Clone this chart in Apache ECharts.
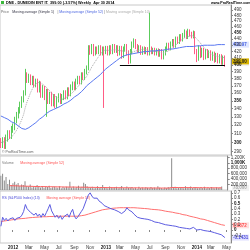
<!DOCTYPE html>
<html><head><meta charset="utf-8">
<script src="https://cdn.jsdelivr.net/npm/echarts@6/dist/echarts.min.js"></script>
<style>html,body{margin:0;padding:0;background:#fff;overflow:hidden}#c{width:250px;height:250px}</style>
</head><body><div id="c"></div>
<script>
const weekStart = '2011-11-14';
const futureWeeks = 3;
const priceOpen = [300,298,302,297,305,310,308,315,318,326, 332,338,345,352,360,385,378,382,375,380, 372,376,365,372,358,366,355,362,350,358, 347,355,345,352,356,350,355,360,356,364, 360,368,372,368,376,380,376,385,382,390, 395,425,420,428,418,424,420,426,418,424, 420,425,418,426,420,428,422,426,418,425, 414,424,428,418,405,420,430,436,428,422, 426,419,424,420,423,418,424,420,422,418, 421,416,420,412,418,424,430,426,432,436, 430,440,436,444,440,446,450,444,452,448, 445,450,420,410,425,415,422,412,420,414, 418,410,416,408,414,406,412,404,410];
const priceClose = [298,302,297,305,310,308,315,318,326,332, 338,345,352,360,385,378,382,375,380,372, 376,365,372,358,366,355,362,350,358,347, 355,345,352,356,350,355,360,356,364,360, 368,372,368,376,380,376,385,382,390,395, 425,420,428,418,424,420,426,418,424,420, 425,418,426,420,428,422,426,418,425,414, 424,428,418,405,420,430,436,428,422,426, 419,424,420,423,418,424,420,422,418,421, 416,420,412,418,424,430,426,432,436,430, 440,436,444,440,446,450,444,452,448,445, 450,420,410,425,415,422,412,420,414,418, 410,416,408,414,406,412,404,410,399];
const priceLow = [294,294,293,293,301,304,304,311,314,322, 328,334,341,348,357,374,374,371,371,368, 368,361,361,354,354,351,330,346,346,343, 343,341,341,348,346,346,351,352,352,356, 356,364,364,364,372,372,372,378,378,386, 392,415,416,413,414,416,416,414,414,341, 416,414,414,416,416,418,418,413,414,409, 410,420,414,401,402,416,426,424,418,418, 415,415,416,416,414,414,416,416,414,414, 412,412,408,408,414,420,422,422,428,426, 426,432,432,436,436,442,440,440,444,441, 441,416,404,406,410,411,407,408,410,410, 406,406,403,404,402,402,400,400,397];
const priceHigh = [305,306,306,309,314,314,319,322,330,336, 342,349,356,364,394,389,387,386,384,384, 380,380,377,376,371,370,366,366,362,362, 359,359,356,360,360,359,364,364,368,368, 372,376,376,380,384,384,389,389,394,399, 430,430,432,432,428,428,430,430,428,428, 429,429,430,430,432,432,430,430,429,429, 428,432,432,422,424,436,441,440,432,430, 430,428,428,427,427,485,428,426,426,425, 425,424,424,422,428,434,434,436,440,440, 444,444,448,448,450,456,454,457,456,452, 454,453,424,430,429,426,426,424,424,422, 422,420,420,418,418,416,416,414,414];
const ma52 = [331,330,329,328,327,326,324,323,322,320, 319,318,316,315,315,316,317,318,320,322, 323,325,327,328,330,332,334,336,337,338, 339,340,341,342,343,344,346,347,348,350, 351,353,355,357,358,360,362,364,367,370, 372,374,376,378,380,382,384,386,389,391, 394,396,398,400,402,404,406,408,410,412, 413,414,415,416,416,417,417,418,418,419, 419,419,420,420,420,420,421,421,421,421, 422,422,422,423,423,423,424,424,424,425, 425,426,426,427,427,427,428,428,428,428, 428,429,429,429,429,429,430,430,430,430, 430,430,430,431,431,431,431,431,430.97];
const ma10 = [300,300,301,302,303, 304,306,308,311,314, 318,322,327,333,342, 349,355,361,366,370, 373,375,375,374,372, 370,368,366,363,360, 358,356,354,353,352, 352,353,354,355,357, 359,361,363,366,369, 371,374,377,380,383, 388,392,397,401,405, 409,413,417,420,422, 422,422,422,422,422, 423,423,422,422,421, 421,421,421,419,418, 419,420,421,422,422, 423,424,424,423,422, 422,421,421,420,420, 420,419,418,418,419, 420,421,423,426,428, 431,433,436,438,440, 442,443,444,445,446, 446,443,440,437,434, 430,427,424,421,418, 416,415,414,413,412, 412,411,411,410.57];
const volumeK = [520,600,350,480,220, 380,180,250,300,200, 260,150,200,180,320, 150,120,200,90,140, 100,180,120,90,150, 80,120,110,160,70, 100,130,90,80,140, 60,110,90,120,100, 300,90,130,80,110, 160,90,120,270,220, 140,100,80,120,60, 90,140,70,100,180, 80,110,60,130,90, 70,100,120,60,90, 150,80,60,130,70, 90,110,60,80,50, 120,70,90,60,100, 80,60,110,70,90, 60,140,80,70,50, 90,60,110,70,1170, 80,120,60,90,70, 100,60,140,80,90, 130,70,90,110,60, 80,100,70,120,60, 90,70,110,80,60, 100,70,90,130];
const volumeMaK = [null,null,null,null,null,160,158,156,154,152, 150,148,146,144,142,140,138,136,134,132, 130,128,127,126,125,124,123,122,121,120, 119,118,117,116,115,114,113,112,111,110, 110,109,108,107,106,105,104,103,102,101, 100,99,98,97,96,95,94,93,92,91, 90,89,88,87,86,86,85,85,84,84, 83,83,82,82,81,81,80,80,79,79, 78,78,77,77,76,76,75,75,74,74, 73,73,72,72,71,71,70,70,70,92, 92,91,91,90,90,89,89,88,88,88, 87,87,86,86,85,85,84,84,83,83, 82,82,81,81,80,80,79,79,78];
const rs = [0.07,0.24,0.18,0.22,0.17,0.21,0.19,0.23,0.18,0.22, 0.20,0.24,0.28,0.35,0.48,0.40,0.42,0.33,0.36,0.28, 0.32,0.26,0.30,0.24,0.31,0.26,0.33,0.40,0.48,0.36, 0.30,0.24,0.28,0.22,0.27,0.20,0.25,0.22,0.30,0.24, 0.33,0.39,0.26,0.21,0.25,0.22,0.35,0.40,0.37,0.58, 0.66,0.70,0.64,0.60,0.57,0.60,0.55,0.58,0.50,0.46, 0.48,0.43,0.45,0.40,0.42,0.38,0.41,0.35,0.33,0.31, 0.33,0.36,0.42,0.38,0.40,0.34,0.30,0.27,0.24,0.26, 0.22,0.25,0.21,0.24,0.20,0.23,0.18,0.20,0.15,0.18, 0.14,0.17,0.12,0.14,0.10,0.13,0.09,0.12,0.08,0.10, 0.07,0.06,0.05,0.07,0.04,0.06,0.03,0.05,0.02,0.04, 0.05,0.02,0.00,0.03,0.01,0.02,-0.01,0.01,-0.02,0.00, -0.03,-0.01,-0.05,-0.03,-0.07,-0.05,-0.09,-0.08,-0.1431];
const rsMa = [0.16,0.165,0.17,0.175,0.18,0.185,0.19,0.195,0.20,0.205, 0.21,0.21,0.215,0.22,0.22,0.225,0.23,0.23,0.235,0.24, 0.24,0.24,0.245,0.245,0.25,0.25,0.25,0.25,0.255,0.255, 0.255,0.255,0.26,0.26,0.26,0.26,0.26,0.26,0.26,0.26, 0.26,0.26,0.26,0.26,0.26,0.26,0.27,0.27,0.28,0.29, 0.30,0.31,0.32,0.33,0.34,0.35,0.36,0.37,0.38,0.385, 0.39,0.395,0.40,0.405,0.41,0.41,0.415,0.415,0.42,0.42, 0.42,0.42,0.42,0.42,0.42,0.42,0.42,0.42,0.415,0.415, 0.41,0.41,0.405,0.40,0.40,0.395,0.39,0.39,0.385,0.38, 0.38,0.375,0.37,0.36,0.355,0.35,0.345,0.34,0.335,0.33, 0.32,0.315,0.31,0.30,0.29,0.285,0.28,0.27,0.26,0.25, 0.245,0.24,0.23,0.22,0.21,0.205,0.20,0.19,0.18,0.17, 0.16,0.15,0.14,0.13,0.12,0.11,0.10,0.095,0.0872];
const priceTicks = [290,300,310,320,330,340,350,360,370,380,390,400,410,420,430,440,450,460,470,480,490];
const volumeTicks = [200000,400000,600000,800000,1000000,1200000];
const rsTicks = [-0.1,0,0.1,0.2,0.3,0.4,0.5,0.6,0.7];
const supportLevel = 399;
const supportStart = '2013-03-04';
const monthNames = ['Jan','Feb','Mar','Apr','May','Jun','Jul','Aug','Sep','Oct','Nov','Dec'];

const FONT = 'Liberation Sans, Arial, sans-serif';
const ln = Math.log;
const nData = priceClose.length;
const dates = [];
{ let t = Date.parse(weekStart + 'T00:00:00Z');
  for (let i = 0; i < nData + futureWeeks; i++) { dates.push(new Date(t).toISOString().slice(0,10)); t += 7*864e5; } }
function isLabelWeek(idx) {
  if (idx === 0) return false;
  const m = +dates[idx].slice(5,7), pm = +dates[idx-1].slice(5,7);
  return m !== pm && m % 2 === 1;
}
const candles = priceOpen.map((o,i) => [ln(o), ln(priceClose[i]), ln(priceLow[i]), ln(priceHigh[i])]);

const chart = echarts.init(document.getElementById('c'), null, {renderer:'canvas'});
const gridCommon = {left: 0, right: 19, show: true, borderColor: '#c8c8c8', borderWidth: 1, backgroundColor: '#fff'};
const xCommon = {type:'category', data: dates, boundaryGap: true, axisLine:{show:false}, axisTick:{show:false}, axisLabel:{show:false}, splitLine:{show:false}};
const yCommon = {position:'right', offset: 0, axisLine:{show:true, lineStyle:{color:'#888', width:1}}, axisTick:{show:true, length:2, lineStyle:{color:'#888'}}, splitLine:{show:false}};
const lblCommon = {fontSize: 4.5, color:'#333', fontFamily: FONT, margin: 3};

chart.setOption({
  animation: false,
  grid: [
    Object.assign({top: 5, height: 150}, gridCommon),
    Object.assign({top: 156, height: 34}, gridCommon),
    Object.assign({top: 191, height: 53}, gridCommon)
  ],
  xAxis: [
    Object.assign({gridIndex:0}, xCommon),
    Object.assign({gridIndex:1}, xCommon),
    Object.assign({gridIndex:2}, xCommon, {
      axisTick:{show:true, length:2, interval: (i) => isLabelWeek(i), lineStyle:{color:'#888'}},
      axisLabel:{show:true, interval: (i) => isLabelWeek(i), fontSize:4.5, color:'#333', fontFamily:FONT, margin:2,
        formatter: (v) => { const m = +v.slice(5,7); return m === 1 ? '{b|' + v.slice(0,4) + '}' : monthNames[m-1]; },
        rich:{b:{fontWeight:'bold', fontSize:4.5, fontFamily:FONT, color:'#222'}}}
    })
  ],
  yAxis: [
    Object.assign({gridIndex:0, type:'value', min: ln(286.5), max: ln(499)}, yCommon, {
      axisTick:{show:true, length:2, customValues: priceTicks.map(ln), lineStyle:{color:'#888'}},
      axisLabel: Object.assign({}, lblCommon, {customValues: priceTicks.map(ln),
        formatter: (v) => { const p = Math.round(Math.exp(v)); return p % 50 === 0 ? '{b|' + p + '}' : String(p); },
        rich:{b:{fontWeight:'bold', fontSize:4.5, fontFamily:FONT, color:'#111'}}})
    }),
    Object.assign({gridIndex:1, type:'value', min: 0, max: 1250000}, yCommon, {
      axisTick:{show:true, length:2, customValues: volumeTicks, lineStyle:{color:'#888'}},
      axisLabel: Object.assign({}, lblCommon, {customValues: volumeTicks,
        formatter: (v) => v >= 1000000 ? (v === 1000000 ? '{b|1,000K}' : (v/1000).toLocaleString('en-US') + 'K') : v.toLocaleString('en-US'),
        rich:{b:{fontWeight:'bold', fontSize:4.5, fontFamily:FONT, color:'#111'}}})
    }),
    Object.assign({gridIndex:2, type:'value', min: -0.245, max: 0.735}, yCommon, {
      axisTick:{show:true, length:2, customValues: rsTicks, lineStyle:{color:'#888'}},
      axisLabel: Object.assign({}, lblCommon, {customValues: rsTicks,
        formatter: (v) => { const r = Math.round(v*10)/10; const s = r === 0 ? '0' : r.toFixed(1); return (r === 0.5 || r === 0) ? '{b|' + s + '}' : s; },
        rich:{b:{fontWeight:'bold', fontSize:4.5, fontFamily:FONT, color:'#111'}}})
    })
  ],
  series: [
    {type:'candlestick', xAxisIndex:0, yAxisIndex:0, data: candles, barWidth: 1,
     itemStyle:{color:'#5ccc5c', color0:'#ff5c85', borderColor:'#5ccc5c', borderColor0:'#ff5c85', borderWidth:1},
     markLine:{silent:true, symbol:'none', label:{show:false}, lineStyle:{color:'#000', width:1, type:'solid'},
       data:[[{xAxis: supportStart, yAxis: ln(supportLevel)}, {xAxis: dates[nData-1], yAxis: ln(supportLevel)}]]}},
    {type:'line', xAxisIndex:0, yAxisIndex:0, data: ma10.map(ln), symbol:'none', lineStyle:{color:'#a8a8a8', width:1, type:'dotted'}},
    {type:'line', xAxisIndex:0, yAxisIndex:0, data: ma52.map(ln), symbol:'none', lineStyle:{color:'#5a78f0', width:1}},
    {type:'bar', xAxisIndex:1, yAxisIndex:1, data: volumeK.map(v => v*1000), barWidth: 1, itemStyle:{color:'#8c8c8c'}},
    {type:'line', xAxisIndex:1, yAxisIndex:1, data: volumeMaK.map(v => v === null ? null : v*1000), symbol:'none', lineStyle:{color:'#ff6060', width:1}},
    {type:'line', xAxisIndex:2, yAxisIndex:2, data: rsMa, symbol:'none', lineStyle:{color:'#ff7070', width:1}},
    {type:'line', xAxisIndex:2, yAxisIndex:2, data: rs, symbol:'none', lineStyle:{color:'#5c5ce0', width:1}}
  ]
});

// value boxes on the right axis, placed through the axis scales
function box(yAxisIndex, value, text, fill, color) {
  const y = chart.convertToPixel({yAxisIndex}, value);
  return {type:'group', x: 232, y: y, children: [
    {type:'rect', shape:{x:0, y:-3, width:17, height:6}, style:{fill: fill}},
    {type:'text', x: 1, y: 0, style:{text, fontSize:4.5, fontFamily:FONT, fill: color, textVerticalAlign:'middle', fontWeight:'bold'}}
  ]};
}
const lastVolMa = volumeMaK[volumeMaK.length-1]*1000;
const T = (x, y, text, fill, size, weight) => ({type:'text', x, y, style:{text, fill, fontSize: size || 3.6, fontFamily: FONT, fontWeight: weight || 'normal'}});
chart.setOption({graphic: [
  box(0, ln(ma52[nData-1]), ma52[nData-1].toFixed(2), '#dfe6ff', '#4a64e0'),
  box(0, ln(ma10[nData-1]) - 0.02, ma10[nData-1].toFixed(2), '#f0f0f0', '#b0b0b0'),
  box(0, ln(priceClose[nData-1]) + 0.015, priceClose[nData-1].toFixed(2), '#d9b400', '#222'),
  box(1, lastVolMa, Math.round(lastVolMa).toLocaleString('en-US'), '#f2f2f2', '#aaa'),
  box(2, rsMa[nData-1], rsMa[nData-1].toFixed(4), '#ffe0e0', '#ff5050'),
  box(2, rs[nData-1], rs[nData-1].toFixed(4), '#e2e2ff', '#4a4ad8'),
  {type:'rect', shape:{x:1, y:1, width:3, height:3}, style:{fill:'#3cb83c'}},
  T(6, 0.5, 'DNE - DUNEDIN ENT IT.', '#000', 3.8, 'bold'),
  T(50, 0.5, '399.00 (-3.57%)', '#000', 3.8, 'bold'),
  T(78, 0.5, 'Weekly  Apr 30 2014', '#000', 3.8, 'bold'),
  T(211, 1, 'www.ProRealTime.com', '#000', 3.6, 'bold'),
  {type:'text', x: 1, y: 6, style:{rich:{g:{fill:'#666', fontSize:3.5, fontFamily:FONT}, k:{fill:'#334', fontSize:3.5, fontFamily:FONT}, b:{fill:'#4a64e0', fontSize:3.5, fontFamily:FONT}, s:{fill:'#aaa', fontSize:3.5, fontFamily:FONT}},
    text:'{g|Price} {k|Moving average (Simple 1)} {g|| }{b|Moving average (Simple 52)}{g| | }{s|Moving average (Simple 10)}'}},
  T(2, 150.5, '© ProRealTime.com', '#555', 3.5),
  {type:'text', x: 2, y: 157, style:{rich:{g:{fill:'#777', fontSize:3.5, fontFamily:FONT}, r:{fill:'#ff5050', fontSize:3.5, fontFamily:FONT}}, text:'{g|Volume}  {r|Moving average (Simple 52)}'}},
  {type:'text', x: 2, y: 192, style:{rich:{b:{fill:'#4a4ad8', fontSize:3.5, fontFamily:FONT}, r:{fill:'#ff5050', fontSize:3.5, fontFamily:FONT}}, text:'{b|RS (S&P500 Index) (13)}  {r|Moving average (Simple 52)}'}}
]});
</script>
</body></html>
